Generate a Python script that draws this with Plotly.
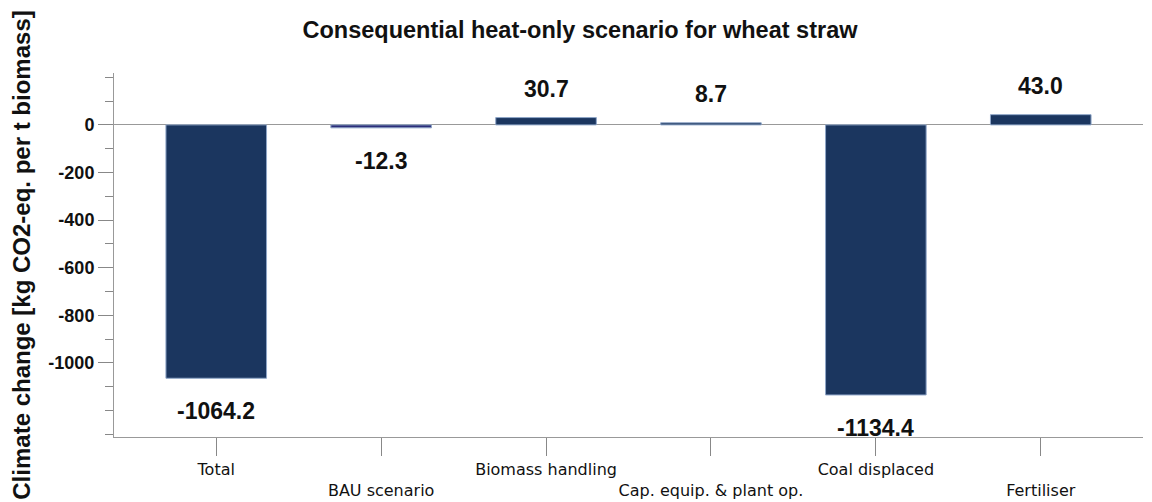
import plotly.graph_objects as go

# categorias e valores (kg CO2-eq. por t biomassa)
categorias = ["Total", "BAU scenario", "Biomass handling",
              "Cap. equip. & plant op.", "Coal displaced", "Fertiliser"]
valores = [-1064.2, -12.3, 30.7, 8.7, -1134.4, 43.0]
rotulos = ["-1064.2", "-12.3", "30.7", "8.7", "-1134.4", "43.0"]
cores = ["#1B365F", "#2C2E7A", "#1B365F", "#1B365F", "#1B365F", "#1B365F"]
yticks = [0, -200, -400, -600, -800, -1000]

# rótulos do eixo x alternados em duas linhas
ticktext = [c if i % 2 == 0 else "<br>" + c for i, c in enumerate(categorias)]

fonte = "Liberation Sans, Arial, sans-serif"

# a página tem margem de 8px no body, por isso a figura é 8px menor
W, H = 1144, 494

fig = go.Figure()
fig.add_trace(go.Bar(
    x=list(range(len(categorias))), y=valores,
    width=0.61,
    marker=dict(color=cores, line=dict(color="#8FA6C8", width=1)),
    hoverinfo="skip",
))

# rótulos de valor acima/abaixo das barras
for i, (v, t) in enumerate(zip(valores, rotulos)):
    fig.add_annotation(
        x=i, y=v, text="<b>" + t + "</b>", showarrow=False,
        yshift=29 if v >= 0 else -33,
        font=dict(family=fonte, size=23, color="#111"),
    )

fig.update_layout(
    width=W, height=H,
    margin=dict(l=106, r=9, t=65, b=65),
    plot_bgcolor="white", paper_bgcolor="white",
    showlegend=False,
    title=dict(
        text="<b>Consequential heat-only scenario for wheat straw</b>",
        x=0.5, xanchor="center", y=1 - 22 / H, yanchor="middle",
        font=dict(family=fonte, size=23.5, color="#111"),
    ),
    xaxis=dict(
        range=[-0.62, 5.62], automargin=False,
        tickvals=list(range(len(categorias))), ticktext=ticktext,
        tickangle=0,
        ticks="outside", ticklen=18, tickcolor="#888", tickwidth=1,
        showline=True, linecolor="#999", linewidth=1,
        showgrid=False, zeroline=False,
        tickfont=dict(family="DejaVu Sans, sans-serif", size=16, color="#111"),
    ),
    yaxis=dict(
        range=[-1311, 218], automargin=False,
        tickvals=yticks, ticktext=[str(v) for v in yticks],
        ticks="outside", ticklen=15, tickcolor="#888", tickwidth=1,
        minor=dict(dtick=100, tick0=0, ticks="outside", ticklen=8,
                   tickcolor="#888", showgrid=False),
        showline=True, linecolor="#999", linewidth=1,
        showgrid=False,
        zeroline=True, zerolinecolor="#999", zerolinewidth=1,
        tickfont=dict(family=fonte, size=18, color="#111", weight="bold"),
        title=dict(
            text="<b>Climate change [kg CO2-eq. per t biomass]</b>",
            standoff=10,
            font=dict(family=fonte, size=24, color="#111"),
        ),
    ),
)

fig.write_html("out.html")
